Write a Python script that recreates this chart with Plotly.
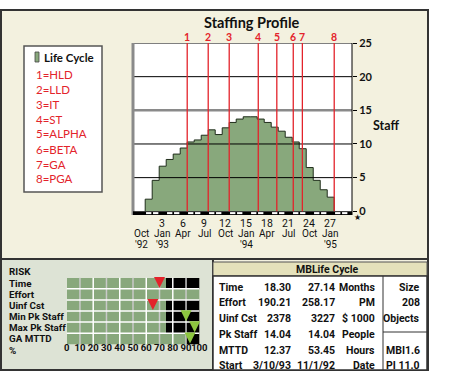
import plotly.graph_objects as go

W, H = 450, 378
def px(x): return x / W
def py(y): return 1 - y / H

# ---------------- data ----------------
months = list(range(1, 28))
staff = [1.8, 4.6, 6.7, 7.7, 8.5, 9.4, 10.3, 10.6, 11.3, 12.1, 11.4, 12.4, 13.2, 13.7,
         14.04, 14.04, 13.7, 13.2, 12.5, 11.9, 11.0, 10.3, 9.3, 6.5, 4.6, 3.2, 2.1]
phase_pos = [6.6, 9.6, 12.6, 16.75, 19.4, 21.75, 23.05, 27.6]
phase_labels = ["1", "2", "3", "4", "5", "6", "7", "8"]
legend_items = ["1=HLD", "2=LLD", "3=IT", "4=ST", "5=ALPHA", "6=BETA", "7=GA", "8=PGA"]
tick_months = [0, 3, 6, 9, 12, 15, 18, 21, 24, 27]
tick_nums = ["", "3", "6", "9", "12", "15", "18", "21", "24", "27"]
tick_mon = ["Oct", "Jan", "Apr", "Jul", "Oct", "Jan", "Apr", "Jul", "Oct", "Jan"]
tick_year = ["'92", "'93", "", "", "", "'94", "", "", "", "'95"]
staff_ticks = [0, 5, 10, 15, 20, 25]

risk_rows = ["Time", "Effort", "Uinf Cst", "Min Pk Staff", "Max Pk Staff", "GA MTTD"]
risk_ok = [75, 100, 75, 75, 75, 90]
risk_arrow = [70, None, 65, 90, 96.5, 93]
risk_arrow_kind = ["bad", None, "bad", "good", "good", "good"]
pct_ticks = [0, 10, 20, 30, 40, 50, 60, 70, 80, 90, 100]

tbl_labels = ["Time", "Effort", "Uinf Cst", "Pk Staff", "MTTD", "Start"]
tbl_a = ["18.30", "190.21", "2378", "14.04", "12.37", "3/10/93"]
tbl_b = ["27.14", "258.17", "3227", "14.04", "53.45", "11/1/92"]
tbl_unit = ["Months", "PM", "$ 1000", "People", "Hours", "Date"]
side_top = ["Size", "208", "Objects"]
side_bot = ["MBI1.6", "PI 11.0"]

# ---------------- style ----------------
BEIGE = "#f3f1df"
GRAYGREEN = "#dde3d5"
KHAKI = "#e4e1bb"
GREEN = "#88a87c"
RED = "#e3232b"
LIME = "#8dc63f"
FRAME = "#333333"
SANS = "Lato, Open Sans, sans-serif"
COND = "Roboto, Liberation Sans, sans-serif"
STEP_OFF = -0.4

fig = go.Figure()

xs = [months[0] + STEP_OFF] + [m + STEP_OFF for m in months] + [months[-1] + 1 + STEP_OFF]
ys = [0] + staff + [0]
fig.add_trace(go.Scatter(x=xs, y=ys, mode="lines", line=dict(shape="hv", color="#1f2d1b", width=1),
                         fill="tozeroy", fillcolor=GREEN, showlegend=False, hoverinfo="skip",
                         xaxis="x", yaxis="y"))

fig.add_trace(go.Bar(y=risk_rows, x=risk_ok, orientation="h", marker=dict(color=GREEN, line=dict(width=0)),
                     width=1, showlegend=False, xaxis="x2", yaxis="y2", hoverinfo="skip"))
fig.add_trace(go.Bar(y=risk_rows, x=[100 - v for v in risk_ok], base=risk_ok, orientation="h",
                     marker=dict(color="black", line=dict(width=0)), width=1, showlegend=False,
                     xaxis="x2", yaxis="y2", hoverinfo="skip"))

shapes = []
def prect(x0, x1, y0, y1, fill, lc, lw):
    shapes.append(dict(type="rect", xref="paper", yref="paper", x0=px(x0), x1=px(x1), y0=py(y1), y1=py(y0),
                       fillcolor=fill, line=dict(color=lc, width=lw), layer="below"))
prect(1, 428, 10, 259, BEIGE, FRAME, 2)
prect(1, 213, 259, 370, GRAYGREEN, FRAME, 2)
prect(213, 428, 259, 370, BEIGE, FRAME, 2)
prect(213, 427, 262, 276, KHAKI, "#555555", 1)
prect(213, 427, 276, 370, "white", FRAME, 1.5)
shapes.append(dict(type="line", xref="paper", yref="paper", x0=px(383), x1=px(383), y0=py(276), y1=py(370),
                   line=dict(color=FRAME, width=1), layer="below"))
shapes.append(dict(type="line", xref="paper", yref="paper", x0=px(383), x1=px(427), y0=py(332), y1=py(332),
                   line=dict(color=FRAME, width=1), layer="below"))
prect(24, 102, 46, 192, "white", "#555555", 1.5)
prect(35, 39, 52, 62, GREEN, "#444444", 0.8)
shapes.append(dict(type="rect", xref="x domain", yref="y domain", x0=0, x1=1, y0=0, y1=1,
                   fillcolor="white", line=dict(width=0), layer="below"))

for v in [5, 10, 20]:
    shapes.append(dict(type="line", xref="x domain", yref="y", x0=0, x1=1, y0=v, y1=v,
                       line=dict(color="black", width=1), layer="above"))
shapes.append(dict(type="line", xref="x domain", yref="y", x0=0, x1=1, y0=15, y1=15,
                   line=dict(color="#8a8a8a", width=2.5), layer="above"))
shapes.append(dict(type="line", xref="x domain", yref="y", x0=0, x1=1, y0=25, y1=25,
                   line=dict(color="black", width=1), layer="above"))
shapes.append(dict(type="line", xref="x domain", yref="y domain", x0=1, x1=1, y0=0, y1=1,
                   line=dict(color="black", width=1), layer="above"))
shapes.append(dict(type="line", xref="x domain", yref="y domain", x0=0, x1=0, y0=0, y1=1,
                   line=dict(color="#8a8a8a", width=3), layer="above"))
shapes.append(dict(type="rect", xref="x domain", yref="y", x0=0, x1=1, y0=-0.55, y1=0,
                   fillcolor="black", line=dict(width=0), layer="above"))
for m in range(1, 30):
    if m % 3 != 0:
        shapes.append(dict(type="rect", xref="x", yref="y", x0=m + STEP_OFF + 0.12, x1=m + 1 + STEP_OFF - 0.12,
                           y0=-0.42, y1=-0.12, fillcolor="white", line=dict(width=0), layer="above"))
for p in phase_pos:
    shapes.append(dict(type="line", xref="x", yref="y", x0=p, x1=p, y0=0, y1=25,
                       line=dict(color=RED, width=1.3), layer="above"))

for v in range(10, 100, 10):
    shapes.append(dict(type="line", xref="x2", yref="y2 domain", x0=v, x1=v, y0=0, y1=1,
                       line=dict(color="#c9c9c9" if (v // 10) % 2 else "white", width=1.5), layer="above"))
for k in range(1, len(risk_rows)):
    shapes.append(dict(type="line", xref="x2 domain", yref="y2", x0=0, x1=1, y0=k - 0.5, y1=k - 0.5,
                       line=dict(color="white", width=1.5), layer="above"))

ann = []
def note(text, x, y, font, xanchor="center", xref="paper", yref="paper"):
    ann.append(dict(text=text, x=x, y=y, xref=xref, yref=yref, xanchor=xanchor, yanchor="middle",
                    showarrow=False, font=font))

note("<b>Staffing Profile</b>", px(252), py(23), dict(family=SANS, size=14.5, color="#111"))
note("<b>Staff</b>", px(386), py(126), dict(family=SANS, size=12.5, color="#111"))
note("★", px(357), py(217), dict(family="DejaVu Sans", size=8, color="#111"))
for p, lab in zip(phase_pos, phase_labels):
    note("<b>" + lab + "</b>", p, py(37), dict(family=SANS, size=10.5, color=RED), xref="x")
XF = dict(family=COND, size=10, color="#111")
for m, mo, yr in zip(tick_months, tick_mon, tick_year):
    note(mo, m, py(233), XF, xref="x")
    if yr:
        note(yr, m, py(244), XF, xref="x")
note("<b>Life Cycle</b>", px(42), py(57), dict(family=SANS, size=11.5, color="#111"), xanchor="left")
for i, t in enumerate(legend_items):
    note(t, px(34), py(74 + 15 * i), dict(family=SANS, size=11.5, color=RED), xanchor="left")
RISKF = dict(family=COND, size=9.8, color="#111", weight="bold")
note("RISK", px(7), py(271), RISKF, xanchor="left")
for r in risk_rows:
    note(r, px(7), r, RISKF, xanchor="left", yref="y2")
note("%", px(7), py(350), RISKF, xanchor="left")
for i, (a, k) in enumerate(zip(risk_arrow, risk_arrow_kind)):
    if a is None:
        continue
    ann.append(dict(text="", x=a, y=i + 0.42, xref="x2", yref="y2", showarrow=True, ax=0, ay=-9,
                    arrowhead=2, arrowsize=1, arrowwidth=2.2, arrowcolor=RED if k == "bad" else LIME))
TBF = dict(family=COND, size=10.5, color="#111", weight="bold")
note("MBLife Cycle", px(327), py(269), TBF)
row_y = [287, 302, 318, 334, 350, 365.5]
for yv, l, a, b, u in zip(row_y, tbl_labels, tbl_a, tbl_b, tbl_unit):
    note(l, px(217), py(yv), TBF, xanchor="left")
    note(a, px(293), py(yv), TBF, xanchor="right")
    note(b, px(337), py(yv), TBF, xanchor="right")
    note(u, px(377), py(yv), TBF, xanchor="right")
for yv, t in zip(row_y[:3], side_top):
    note(t, px(422), py(yv), TBF, xanchor="right")
for yv, t in zip(row_y[4:], side_bot):
    note(t, px(422), py(yv), TBF, xanchor="right")

fig.update_layout(
    width=W, height=H, margin=dict(l=0, r=0, t=0, b=0, autoexpand=False),
    paper_bgcolor="white", plot_bgcolor="rgba(0,0,0,0)",
    bargap=0, barmode="overlay",
    xaxis=dict(domain=[px(133), px(352)], range=[-1.143, 30.14], showgrid=False, zeroline=False,
               tickvals=tick_months, ticktext=tick_nums, ticks="", showline=False, automargin=False,
               tickangle=0, tickfont=dict(family=COND, size=10.5, color="#111"), anchor="y"),
    yaxis=dict(domain=[py(215), py(43)], range=[-0.55, 25], side="right", showgrid=False, zeroline=False,
               tickvals=staff_ticks, ticks="outside", ticklen=4, tickcolor="black", showline=False,
               automargin=False, tickfont=dict(family=SANS, size=11, color="#111", weight="bold"), anchor="x"),
    xaxis2=dict(domain=[px(66.7), px(199.3)], range=[0, 100], showgrid=False, zeroline=False,
                tickvals=pct_ticks, ticks="", showline=False, anchor="free", position=py(340.5),
                automargin=False, tickangle=0,
                tickfont=dict(family=COND, size=9.5, color="#111", weight="bold")),
    yaxis2=dict(domain=[py(344.3), py(277.7)], range=[len(risk_rows) - 0.5, -0.5], autorange=False,
                showticklabels=False, showgrid=False, zeroline=False, ticks="", anchor="x2",
                type="category", categoryorder="array", categoryarray=risk_rows, automargin=False),
    shapes=shapes, annotations=ann,
)
fig.write_html("out.html", config={"displayModeBar": False},
               post_script="document.body.style.margin='0';document.body.style.padding='0';")
